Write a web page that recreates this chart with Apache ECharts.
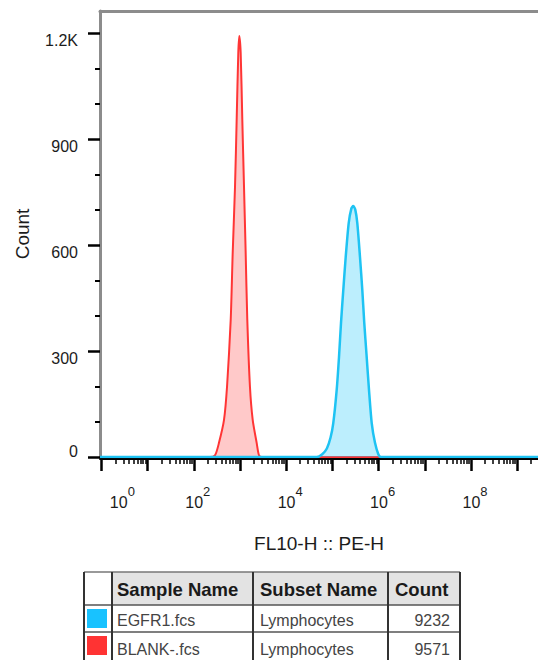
<!DOCTYPE html>
<html><head><meta charset="utf-8">
<script src="https://cdn.jsdelivr.net/npm/echarts@6/dist/echarts.min.js"></script>
<style>html,body{margin:0;padding:0;background:#fff}#c{width:538px;height:660px}</style>
</head><body><div id="c"></div>
<script>
// ---- data (x in log10 units of FL10-H :: PE-H, y = Count) ----
const blankX = [-0.03, 2.35, 2.46, 2.545, 2.654, 2.719, 2.799, 2.842, 2.892, 2.928, 2.963, 2.985, 3.015, 3.050, 3.087, 3.123, 3.158, 3.216, 3.275, 3.361, 3.411, 3.47, 9.45];
const blankY = [0, 0, 5, 40, 105, 198, 388, 577, 764, 954, 1143, 1191, 1143, 954, 764, 577, 388, 198, 105, 40, 5, 0, 0];
const egfrX = [-0.03, 4.66, 4.78, 4.88, 4.96, 5.019, 5.093, 5.143, 5.186, 5.236, 5.288, 5.353, 5.41, 5.452, 5.495, 5.539, 5.597, 5.647, 5.690, 5.742, 5.792, 5.851, 5.922, 5.994, 6.05, 9.45];
const egfrY = [0, 0, 8, 24, 55, 96, 190, 283, 379, 473, 566, 662, 703, 710, 700, 662, 566, 473, 379, 283, 190, 96, 40, 8, 0, 0];

// ---- axes ----
const xLabelPowers = [0, 2, 4, 6, 8];
const xMajorTicks = [0, 1, 2, 3, 4, 5, 6, 7, 8, 9];
const yTickValues = [0, 300, 600, 900, 1200];
const yTickLabels = ['0', '300', '600', '900', '1.2K'];
const yMinorTicks = [100, 200, 400, 500, 700, 800, 1000, 1100];

// ---- legend table ----
const sampleNames = ['EGFR1.fcs', 'BLANK-.fcs'];
const subsetNames = ['Lymphocytes', 'Lymphocytes'];
const counts = [9232, 9571];
const headers = ['Sample Name', 'Subset Name', 'Count'];

const C_BLUE = '#1ec3f3', C_BLUE_FILL = 'rgba(40,200,250,0.45)';
const C_RED = '#ff3535', C_RED_FILL = 'rgba(255,70,70,0.42)';
const FONT = '"Liberation Sans", Arial, Helvetica, sans-serif';
const TXT = '#1c1c1c';
const XMIN = -0.03, XMAX = 9.45, YMAX = 1262;

const xMinorTicks = [];
for (let d = 0; d < 10; d++) for (let k = 2; k < 10; k++) { const v = d + Math.log10(k); if (v < XMAX) xMinorTicks.push(v); }

const toPairs = (xs, ys) => xs.map((x, i) => [x, ys[i]]);

// table geometry
const colX = [84, 112, 253, 388, 460];
const rowY = [572, 605, 632, 664];
const g = [];
g.push({type: 'rect', shape: {x: colX[1], y: rowY[0], width: colX[4] - colX[1], height: rowY[1] - rowY[0]}, style: {fill: '#e3e3e3'}});
for (let i = 0; i < 2; i++) {
  g.push({type: 'rect', shape: {x: 87, y: rowY[i + 1] + 4, width: 20, height: 19}, style: {fill: i === 0 ? '#18c2ff' : '#ff3333'}});
}
for (let r = 0; r < 3; r++) {
  g.push({type: 'line', shape: {x1: colX[0], y1: rowY[r], x2: colX[4], y2: rowY[r]}, style: {stroke: r === 0 ? '#777' : '#555', lineWidth: 1.5}});
}
for (let c = 0; c < colX.length; c++) {
  g.push({type: 'line', shape: {x1: colX[c], y1: rowY[0], x2: colX[c], y2: rowY[3]}, style: {stroke: '#333', lineWidth: 2}});
}
function txt(t, x, y, opts) {
  return {type: 'text', x: x, y: y, style: Object.assign({text: t, fontFamily: FONT, fontSize: 16, fill: '#444',
    align: 'left', verticalAlign: 'middle', textAlign: 'left', textVerticalAlign: 'middle'}, opts || {})};
}
const headerY = 589;
g.push(txt(headers[0], colX[1] + 5, headerY, {fontSize: 18.5, fontWeight: 'bold', fill: '#1a1a1a'}));
g.push(txt(headers[1], colX[2] + 7, headerY, {fontSize: 18.5, fontWeight: 'bold', fill: '#1a1a1a'}));
g.push(txt(headers[2], colX[3] + 7, headerY, {fontSize: 18.5, fontWeight: 'bold', fill: '#1a1a1a'}));
const rowCenters = [620, 649];
for (let i = 0; i < 2; i++) {
  g.push(txt(sampleNames[i], colX[1] + 5, rowCenters[i]));
  g.push(txt(subsetNames[i], colX[2] + 7, rowCenters[i]));
  g.push(txt(String(counts[i]), colX[4] - 10, rowCenters[i], {align: 'right', textAlign: 'right'}));
}

const chart = echarts.init(document.getElementById('c'), null, {renderer: 'svg'});
const baseX = {type: 'value', min: XMIN, max: XMAX, splitLine: {show: false}};
const baseY = {type: 'value', min: 0, max: YMAX, splitLine: {show: false}};
chart.setOption({
  animation: false,
  backgroundColor: '#fff',
  grid: {left: 100, right: 0, top: 11, bottom: 203, containLabel: false},
  xAxis: [
    Object.assign({}, baseX, {
      position: 'bottom', offset: 2,
      axisLine: {show: true, onZero: false, lineStyle: {color: '#000', width: 2}},
      axisTick: {show: true, customValues: xMajorTicks, length: 12, lineStyle: {color: '#000', width: 2.5}},
      axisLabel: {
        show: true, customValues: xLabelPowers, margin: 26,
        formatter: v => (Math.round(v) === 0 ? '{b0|10}' : '{b|10}') + '{s|' + Math.round(v) + '}',
        rich: {
          b: {fontSize: 16, fontFamily: FONT, color: TXT, padding: [0, 0, 0, 8]},
          b0: {fontSize: 16, fontFamily: FONT, color: TXT, padding: [0, 0, 0, 42]},
          s: {fontSize: 13, fontFamily: FONT, color: TXT, padding: [0, 0, 22, 0]}
        }
      },
      name: 'FL10-H :: PE-H', nameLocation: 'middle', nameGap: 75,
      nameTextStyle: {fontSize: 19, fontFamily: FONT, color: TXT}
    }),
    Object.assign({}, baseX, {
      position: 'bottom', offset: 2,
      axisLine: {show: false, onZero: false},
      axisTick: {show: true, customValues: xMinorTicks, length: 5, lineStyle: {color: '#000', width: 1.5}},
      axisLabel: {show: false}
    }),
    Object.assign({}, baseX, {
      position: 'top',
      axisLine: {show: true, onZero: false, lineStyle: {color: '#8c8c8c', width: 3}},
      axisTick: {show: false}, axisLabel: {show: false}
    })
  ],
  yAxis: [
    Object.assign({}, baseY, {
      position: 'left',
      axisLine: {show: true, onZero: false, lineStyle: {color: '#8c8c8c', width: 3}},
      axisTick: {show: true, customValues: yTickValues, length: 12, lineStyle: {color: '#000', width: 2.5}},
      axisLabel: {
        show: true, customValues: yTickValues, margin: 22,
        formatter: v => {
          const i = yTickValues.indexOf(Math.round(v));
          const t = i >= 0 ? yTickLabels[i] : String(v);
          return Math.round(v) === 0 ? '{z|' + t + '}' : '{a|' + t + '}';
        },
        rich: {
          a: {fontSize: 16, fontFamily: FONT, color: TXT, padding: [15, 0, 0, 0]},
          z: {fontSize: 16, fontFamily: FONT, color: TXT, padding: [0, 0, 12, 0]}
        }
      },
      name: 'Count', nameLocation: 'middle', nameGap: 68,
      nameTextStyle: {fontSize: 19, fontFamily: FONT, color: TXT}
    }),
    Object.assign({}, baseY, {
      position: 'left',
      axisLine: {show: false, onZero: false},
      axisTick: {show: true, customValues: yMinorTicks, length: 5, lineStyle: {color: '#000', width: 2}},
      axisLabel: {show: false}
    })
  ],
  graphic: {elements: g},
  series: [
    {
      name: 'BLANK-.fcs', type: 'line', xAxisIndex: 0, yAxisIndex: 0,
      data: toPairs(blankX, blankY), showSymbol: false, smooth: 0.25,
      lineStyle: {color: C_RED, width: 2}, itemStyle: {color: C_RED},
      areaStyle: {color: C_RED_FILL}, z: 2
    },
    {
      name: 'EGFR1.fcs', type: 'line', xAxisIndex: 0, yAxisIndex: 0,
      data: toPairs(egfrX, egfrY), showSymbol: false, smooth: 0.25,
      lineStyle: {color: C_BLUE, width: 2.5}, itemStyle: {color: C_BLUE},
      areaStyle: {color: C_BLUE_FILL}, z: 3
    }
  ]
});
</script>
</body></html>
